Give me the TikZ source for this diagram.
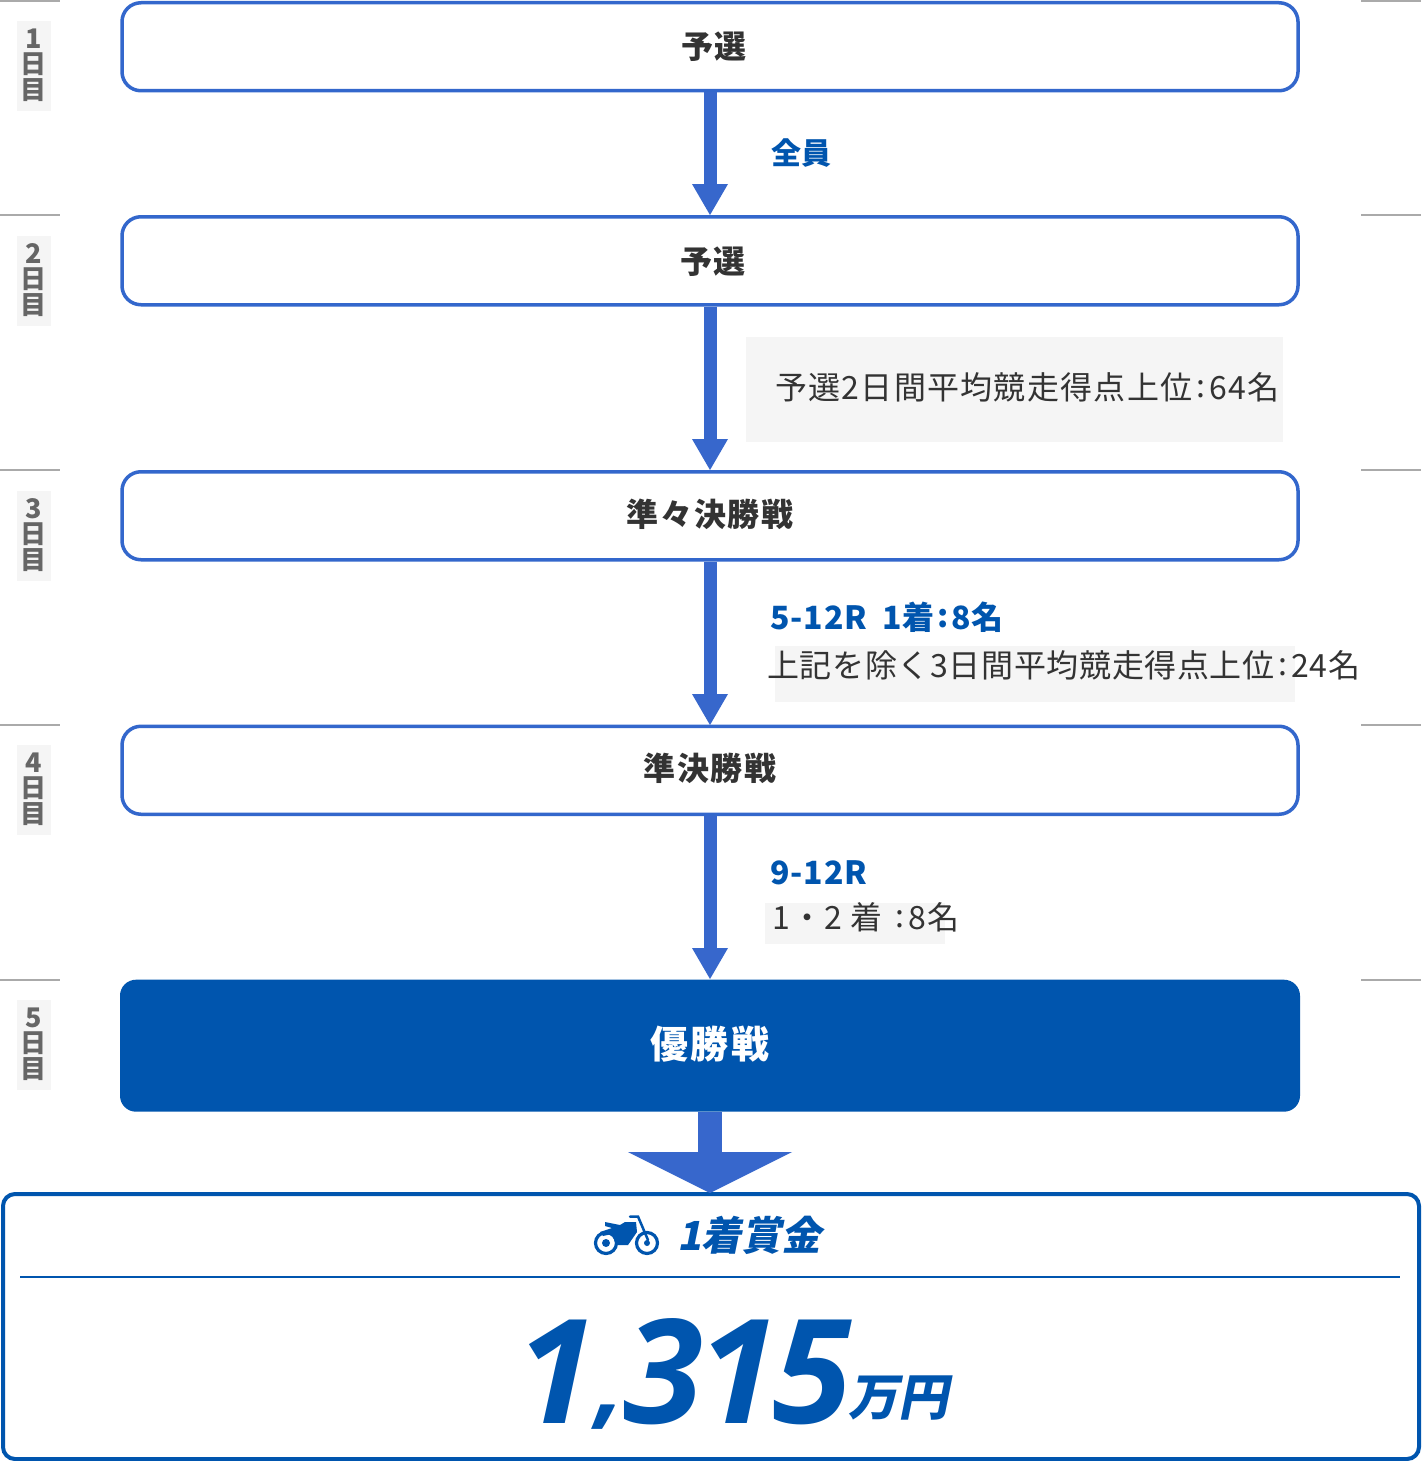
\documentclass[tikz,border=0pt]{standalone}
\usepackage{fontspec}
\usetikzlibrary{arrows.meta}
\setmainfont{Noto Sans CJK JP}
\newfontfamily\jp{Noto Sans CJK JP}
\newfontfamily\jpsp[LetterSpace=6]{Noto Sans CJK JP}
\newfontfamily\jpbody[LetterSpace=4]{Noto Sans CJK JP}
\newfontfamily\jpbodyt[LetterSpace=2]{Noto Sans CJK JP}
\newfontfamily\jphead[LetterSpace=3]{Noto Sans CJK JP}
\newfontfamily\jpsl[FakeSlant=0.2]{Noto Sans CJK JP}
\newfontfamily\numit[LetterSpace=-4]{Open Sans}
\newcommand{\fsz}[1]{\fontsize{#1}{#1}\selectfont}
\newcommand{\colonmark}{\hspace{4pt}\raisebox{2pt}{:}\hspace{4pt}}
\definecolor{boxblue}{HTML}{3367CC}
\definecolor{arrblue}{HTML}{3767CC}
\definecolor{deep}{HTML}{0055AE}
\definecolor{ink}{HTML}{333333}
\definecolor{daygray}{HTML}{666666}
\definecolor{pale}{HTML}{F5F5F5}
\definecolor{tick}{HTML}{AAAAAA}
\tikzset{
  stage/.style={draw=boxblue,line width=3.5pt,rounded corners=19pt,fill=white,minimum width=1176pt,minimum height=88pt,inner sep=0pt,anchor=north},
  final/.style={fill=deep,rounded corners=16pt,minimum width=1180pt,minimum height=132pt,inner sep=0pt,anchor=north},
  prize/.style={draw=deep,line width=4pt,rounded corners=12pt,minimum width=1416pt,minimum height=265pt,inner sep=0pt,anchor=north west},
  flow/.style={draw=arrblue,line width=13pt,-{Triangle[width=36pt,length=31pt,line width=0pt,fill=arrblue]}},
  bigflow/.style={draw=arrblue,line width=24pt,-{Triangle[width=164pt,length=41pt,line width=0pt,fill=arrblue]}},
  ticks/.style={draw=tick,line width=2pt},
  daybox/.style={fill=pale,minimum width=34pt,minimum height=90pt,inner sep=0pt,anchor=north west},
  daytext/.style={text=daygray,font=\jp\bfseries\fsz{26},align=center,inner sep=0pt},
  stagetext/.style={text=ink,font=\jpsp\bfseries\fsz{32},inner sep=0pt},
  condhead/.style={text=deep,font=\jphead\bfseries\fsz{32},inner sep=0pt,anchor=west},
  condbody/.style={text=ink,font=\jpbody\fsz{32},inner sep=0pt,anchor=west},
  palebox/.style={fill=pale,inner sep=0pt,anchor=north west},
  prizetext/.style={text=deep,inner sep=0pt}
}
\begin{document}
\begin{tikzpicture}[x=1pt,y=1pt]
\useasboundingbox (0,0) rectangle (1421,-1461);
\fill[white] (0,0) rectangle (1421,-1461);
% ticks
\foreach \yy in {1,215,470,724.5,979.5}{
  \draw[ticks] (0,-\yy) -- (60,-\yy);
  \draw[ticks] (1361,-\yy) -- (1421,-\yy);
}
% day labels
\foreach \yy/\dd in {21/1,236/2,491/3,745/4,1000/5}{
  \node[daybox] at (17,-\yy) {};
  \node[daytext] at (33.5,-\yy-44) {\fsz{27}\dd\\[-0.5pt]\fsz{26}日\\[-0.5pt]目};
}
% stages
\node[stage] (s1) at (710,-1) {};
\node[stage] (s2) at (710,-215) {};
\node[stage] (s3) at (710,-470) {};
\node[stage] (s4) at (710,-724.5) {};
\node[final] (s5) at (710,-979.5) {};
\node[prize] (p) at (1,-1192) {};
\node[stagetext] (t1) at (714,-47) {予選};
\node[stagetext] (t2) at (713,-262) {予選};
\node[stagetext] (t3) at (710,-514) {準々決勝戦};
\node[stagetext] (t4) at (710,-768) {準決勝戦};
\node[stagetext,text=white,font=\jpsp\bfseries\fsz{38}] (t5) at (710,-1044) {優勝戦};
% arrows
\coordinate (e2) at (710,-215);
\coordinate (e3) at (710,-470);
\coordinate (e4) at (710,-725);
\coordinate (e5) at (710,-979);
\coordinate (e6) at (710,-1193);
\draw[flow] (s1.south) -- (e2);
\draw[flow] (s2.south) -- (e3);
\draw[flow] (s3.south) -- (e4);
\draw[flow] (s4.south) -- (e5);
\draw[bigflow] (s5.south) -- (e6);
% conditions
\node[condhead,font=\jp\bfseries\fsz{30}] (c1) at (771,-153) {全員};
\node[palebox,minimum width=537pt,minimum height=105pt] (g1) at (746,-337) {};
\node[condbody] (c2) at (775,-387) {予選2日間平均競走得点上位\colonmark{}64名};
\node[condhead] (c3) at (770,-617) {5-12R\hspace{15pt}1着\hspace{2.5pt}\raisebox{2pt}{:}\hspace{2.5pt}8名};
\node[palebox,minimum width=520pt,minimum height=56pt] (g2) at (775,-646) {};
\node[condbody,font=\jpbodyt\fsz{32}] (c4) at (767,-665) {上記を除く3日間平均競走得点上位\colonmark{}24名};
\node[condhead] (c5) at (770,-873) {9-12R};
\node[palebox,minimum width=180pt,minimum height=41pt] (g3) at (765,-903) {};
\node[condbody] (c6) at (772,-917) {1・2 着 \colonmark{}8名};
% prize box
\coordinate (ruleL) at (20,-1276.5);
\coordinate (ruleR) at (1400,-1276.5);
\draw[deep,line width=2pt] (ruleL) -- (ruleR);
% motorcycle icon
\begin{scope}[deep]
  \draw[line width=3.2pt] (606,-1243) circle (10.5);
  \fill (606,-1243) circle (4);
  \draw[line width=3.2pt] (647,-1243) circle (10.5);
  \fill (647,-1243) circle (3);
  \fill (605,-1222) -- (620,-1225) -- (625,-1222) -- (636,-1222) -- (637,-1232) -- (628,-1245) -- (616,-1245) -- (612,-1234) -- (603,-1236) -- (600,-1232) -- (612,-1228) -- (605,-1226) -- cycle;
  \draw[line width=2.5pt,line cap=round] (630,-1216.5) -- (638,-1216.5) -- (648,-1240);
\end{scope}
\node[prizetext,font=\jpsl\bfseries\fsz{40},anchor=west] (pt) at (677,-1235) {1着賞金};
\node[prizetext,font=\numit\bfseries\itshape\fsz{145},anchor=base west] (amt) at (516,-1423) {1{\fsz{100}\raisebox{7pt}{,}}315};
\node[prizetext,font=\jpsl\bfseries\fsz{50},anchor=base west] (unit) at (848,-1415) {万円};
\end{tikzpicture}
\end{document}
